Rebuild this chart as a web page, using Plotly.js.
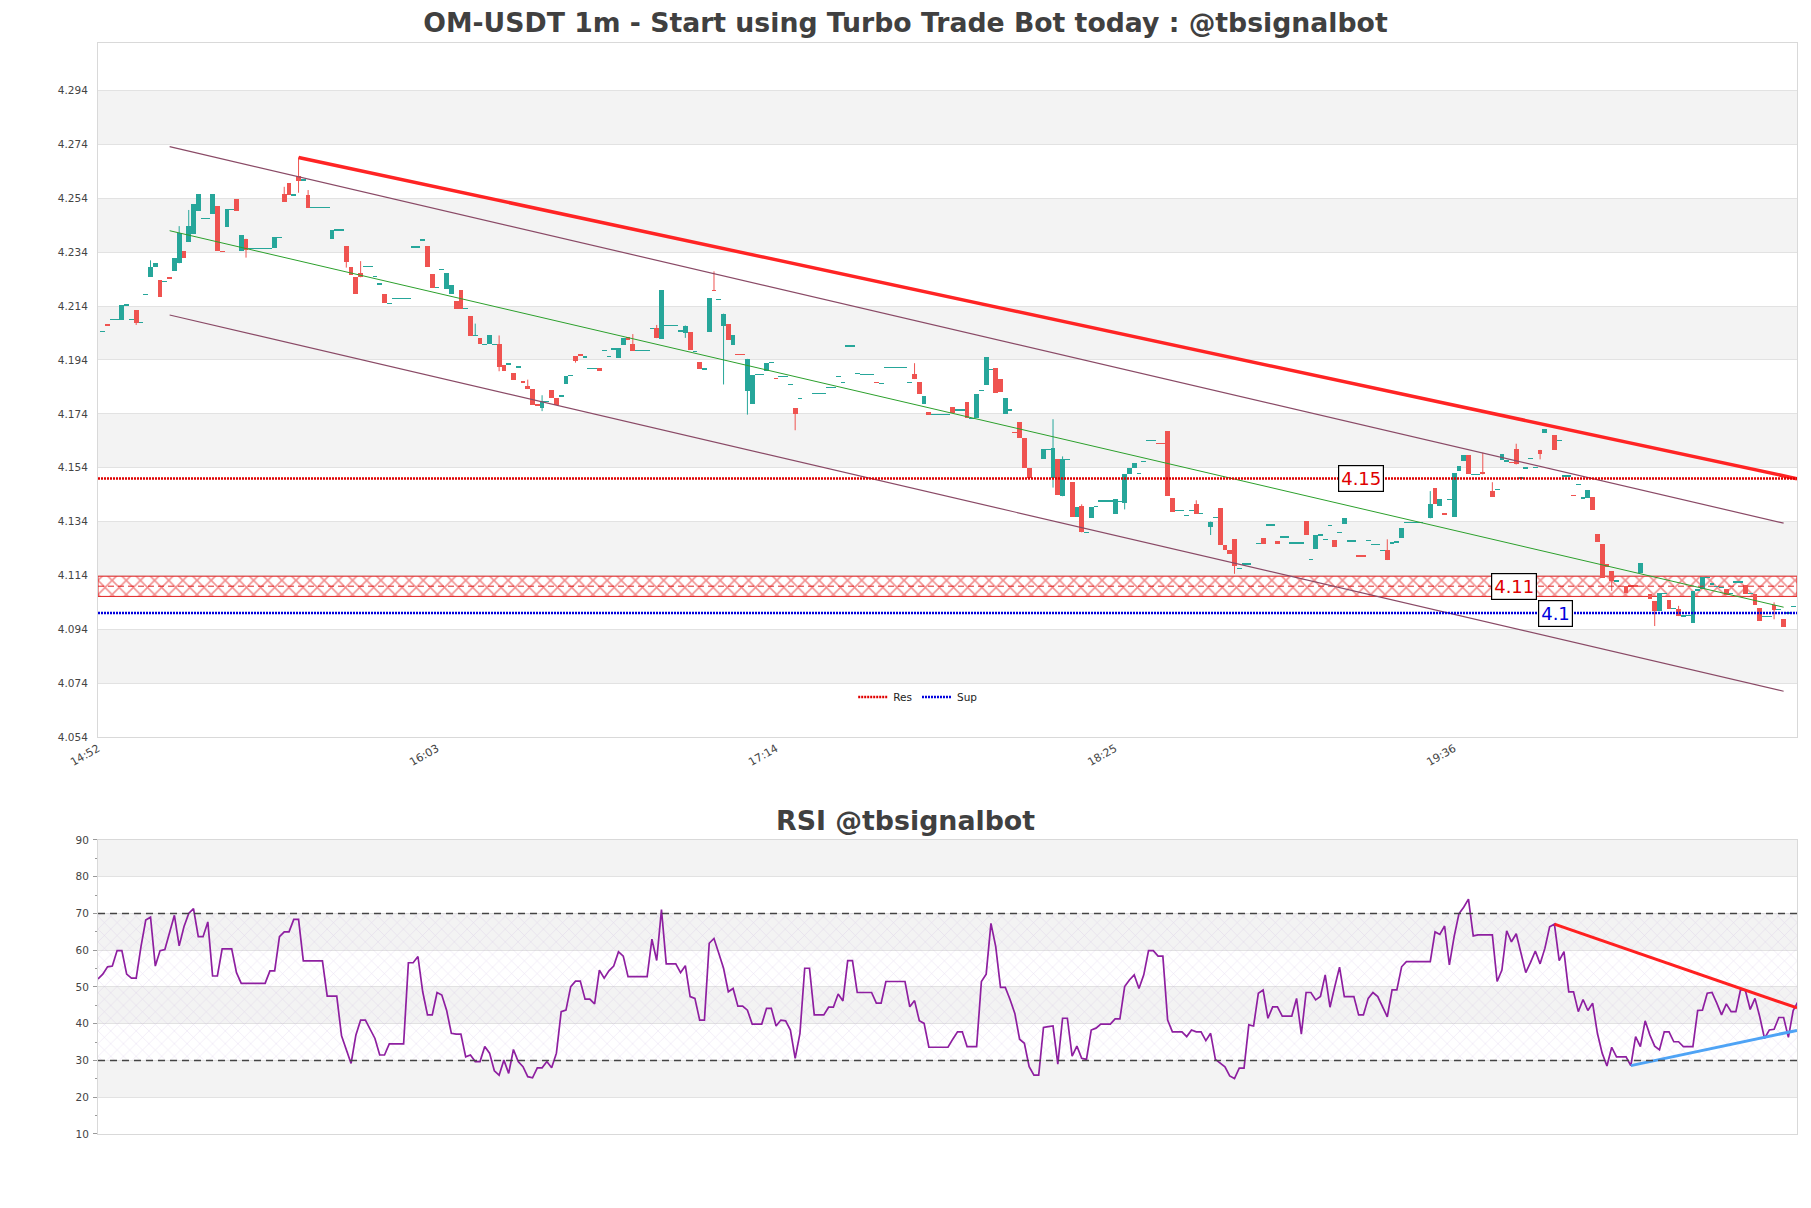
<!DOCTYPE html>
<html><head><meta charset="utf-8">
<script src="https://cdn.plot.ly/plotly-3.0.1.min.js"></script>
<style>html,body{margin:0;padding:0;background:#fff}#chart{width:1811px;height:1208px}</style>
</head><body><div id="chart"></div>
<script>
// ---------- DATA ----------
const titleText = 'OM-USDT 1m - Start using Turbo Trade Bot today : @tbsignalbot';
const rsiTitleText = 'RSI @tbsignalbot';
const timeTickMinutes = [0, 71, 142, 213, 284];
const timeTickLabels = ['14:52', '16:03', '17:14', '18:25', '19:36'];
const priceTicks = [4.054, 4.074, 4.094, 4.114, 4.134, 4.154, 4.174, 4.194, 4.214, 4.234, 4.254, 4.274, 4.294];
const rsiTicks = [10, 20, 30, 40, 50, 60, 70, 80, 90];

// candles for minutes 1..355 (null = no candle)
const candleOpen = [
4.2046,4.2071,4.2090,4.2090,4.2090,4.2144,4.2090,4.2125,4.2078,4.2184,
4.2249,4.2284,4.2237,4.2232,4.2249,4.2271,4.2299,4.2343,4.2379,4.2408,
4.2493,4.2466,4.2466,4.2482,4.2512,4.2344,4.2432,4.2499,4.2536,4.2346,
4.2390,4.2354,4.2354,4.2354,4.2354,4.2354,4.2354,4.2395,4.2556,4.2596,
4.2552,4.2623,4.2608,4.2552,4.2507,4.2507,4.2507,4.2507,4.2390,4.2422,
4.2422,4.2363,4.2285,4.2249,4.2264,4.2287,4.2287,4.2250,4.2222,4.2184,
4.2150,4.2169,4.2169,4.2169,4.2169,4.2360,4.2360,4.2385,4.2365,4.2259,
4.2210,4.2276,4.2204,4.2185,4.2158,4.2198,4.2130,4.2105,4.2031,4.2022,
4.1998,4.1998,4.1998,4.1998,4.1922,4.1925,4.1892,4.1909,4.1863,4.1842,
4.1832,4.1773,4.1762,4.1787,4.1830,4.1799,4.1801,4.1849,4.1883,4.1954,
4.1964,4.1951,4.1909,4.1909,4.1912,4.1976,4.1954,4.1981,4.1946,4.1995,
4.2026,4.2001,4.1976,4.1976,4.1976,4.2058,4.2058,4.2018,4.2068,4.2068,
4.2068,4.2047,4.2040,4.2045,4.1971,4.1933,4.1907,4.2043,4.2201,4.2164,
4.2068,4.2075,4.1997,4.1961,4.1961,4.1824,4.1777,4.1886,4.1886,4.1898,
4.1930,4.1872,4.1879,4.1879,4.1850,4.1760,4.1798,null,null,4.1815,
4.1815,4.1815,4.1837,4.1837,4.1878,4.1856,4.1992,4.1992,4.1889,4.1885,
4.1885,4.1885,4.1856,4.1853,4.1912,4.1912,4.1912,4.1912,4.1912,4.1856,
4.1889,4.1857,4.1775,4.1748,4.1737,4.1737,4.1737,4.1737,4.1765,4.1754,
4.1754,4.1785,4.1723,4.1726,4.1827,4.1847,4.1905,4.1909,4.1868,4.1738,
4.1754,4.1671,4.1711,4.1652,4.1540,null,null,4.1574,4.1608,4.1500,
4.1571,4.1434,4.1571,4.1488,4.1357,4.1398,4.1300,4.1354,4.1396,4.1416,
4.1416,4.1416,4.1367,4.1414,4.1410,4.1518,4.1540,4.1518,4.1562,4.1641,
4.1641,4.1630,4.1630,4.1676,4.1429,4.1380,4.1380,4.1363,4.1382,4.1404,
4.1369,null,4.1320,4.1355,4.1389,4.1253,4.1235,4.1274,4.1166,4.1183,
4.1183,null,4.1258,4.1278,4.1327,4.1327,4.1268,4.1283,4.1283,4.1260,
4.1260,4.1260,4.1342,4.1198,4.1237,4.1290,4.1273,4.1326,4.1271,4.1299,
4.1330,4.1268,4.1268,4.1212,4.1212,4.1270,4.1255,4.1255,4.1233,4.1233,
4.1260,4.1264,4.1280,4.1336,4.1336,4.1336,4.1336,null,4.1352,4.1463,
4.1397,4.1373,4.1422,4.1358,4.1528,4.1565,4.1586,4.1515,4.1515,4.1524,
null,4.1453,4.1460,4.1568,4.1565,4.1560,4.1608,4.1502,4.1539,4.1573,
4.1540,4.1606,4.1670,null,4.1660,4.1640,4.1509,4.1509,4.1438,4.1477,
4.1422,4.1429,4.1432,4.1295,4.1255,4.1183,4.1156,4.1119,null,4.1100,
4.1101,4.1101,4.1150,null,4.1070,4.1045,4.1008,4.1073,4.1047,4.1016,
4.1014,4.0989,4.0991,4.0964,4.1086,4.1091,4.1133,4.1108,4.1100,4.1094,
4.1091,4.1072,4.1115,4.1115,4.1103,4.1072,4.1072,4.1018,4.0987,4.0987,
4.1032,4.1013,4.0979,4.0996,4.1024];
const candleHigh = [
4.2046,4.2071,4.2090,4.2090,4.2144,4.2144,4.2090,4.2125,4.2078,4.2184,
4.2310,4.2299,4.2237,4.2232,4.2249,4.2317,4.2437,4.2343,4.2497,4.2521,
4.2556,4.2466,4.2466,4.2556,4.2512,4.2344,4.2499,4.2499,4.2536,4.2403,
4.2390,4.2354,4.2354,4.2354,4.2354,4.2354,4.2395,4.2395,4.2583,4.2596,
4.2552,4.2692,4.2608,4.2571,4.2507,4.2507,4.2507,4.2507,4.2422,4.2422,
4.2422,4.2363,4.2285,4.2249,4.2307,4.2287,4.2287,4.2250,4.2222,4.2184,
4.2150,4.2169,4.2169,4.2169,4.2169,4.2360,4.2360,4.2385,4.2365,4.2259,
4.2210,4.2276,4.2263,4.2220,4.2158,4.2198,4.2130,4.2105,4.2075,4.2022,
4.1998,4.2031,4.1998,4.2031,4.1922,4.1925,4.1892,4.1917,4.1863,4.1867,
4.1832,4.1773,4.1809,4.1787,4.1830,4.1799,4.1810,4.1880,4.1883,4.1954,
4.1964,4.1951,4.1909,4.1909,4.1912,4.1976,4.1954,4.1981,4.1986,4.2023,
4.2026,4.2036,4.1976,4.1976,4.1976,4.2058,4.2070,4.2199,4.2068,4.2068,
4.2068,4.2047,4.2068,4.2045,4.1971,4.1933,4.1907,4.2170,4.2269,4.2164,
4.2112,4.2075,4.2031,4.1961,4.1961,4.1944,4.1886,4.1886,4.1886,4.1927,
4.1930,4.1872,4.1879,4.1879,4.1850,4.1760,4.1798,null,null,4.1815,
4.1815,4.1815,4.1837,4.1837,4.1878,4.1856,4.1992,4.1992,4.1889,4.1885,
4.1885,4.1885,4.1856,4.1853,4.1912,4.1912,4.1912,4.1912,4.1912,4.1856,
4.1928,4.1857,4.1805,4.1748,4.1737,4.1737,4.1737,4.1737,4.1765,4.1754,
4.1754,4.1785,4.1723,4.1815,4.1827,4.1952,4.1905,4.1909,4.1868,4.1800,
4.1754,4.1671,4.1711,4.1652,4.1540,null,null,4.1608,4.1608,4.1720,
4.1571,4.1582,4.1571,4.1488,4.1394,4.1404,4.1300,4.1394,4.1396,4.1416,
4.1416,4.1416,4.1422,4.1414,4.1515,4.1540,4.1559,4.1518,4.1562,4.1641,
4.1641,4.1630,4.1630,4.1676,4.1429,4.1380,4.1380,4.1363,4.1382,4.1419,
4.1369,null,4.1340,4.1355,4.1389,4.1253,4.1235,4.1274,4.1166,4.1183,
4.1183,null,4.1258,4.1278,4.1327,4.1327,4.1268,4.1283,4.1283,4.1260,
4.1260,4.1260,4.1342,4.1198,4.1290,4.1290,4.1273,4.1326,4.1271,4.1299,
4.1354,4.1268,4.1268,4.1212,4.1212,4.1270,4.1255,4.1255,4.1233,4.1274,
4.1260,4.1264,4.1315,4.1336,4.1336,4.1336,4.1336,null,4.1453,4.1463,
4.1422,4.1373,4.1422,4.1521,4.1546,4.1586,4.1586,4.1515,4.1515,4.1596,
null,4.1486,4.1460,4.1590,4.1565,4.1560,4.1629,4.1502,4.1539,4.1573,
4.1540,4.1606,4.1685,null,4.1660,4.1640,4.1509,4.1509,4.1438,4.1477,
4.1432,4.1457,4.1432,4.1295,4.1255,4.1183,4.1156,4.1119,null,4.1100,
4.1101,4.1101,4.1185,null,4.1070,4.1045,4.1076,4.1073,4.1047,4.1016,
4.1027,4.0989,4.0991,4.1082,4.1086,4.1133,4.1133,4.1108,4.1100,4.1094,
4.1091,4.1072,4.1115,4.1115,4.1103,4.1072,4.1072,4.1018,4.0987,4.0987,
4.1040,4.1013,4.0979,4.1004,4.1024];
const candleLow = [
4.2046,4.2070,4.2090,4.2090,4.2090,4.2144,4.2090,4.2070,4.2078,4.2184,
4.2249,4.2284,4.2172,4.2232,4.2239,4.2271,4.2299,4.2320,4.2379,4.2408,
4.2493,4.2466,4.2466,4.2482,4.2343,4.2343,4.2432,4.2499,4.2494,4.2346,
4.2320,4.2354,4.2354,4.2354,4.2354,4.2354,4.2354,4.2395,4.2528,4.2552,
4.2552,4.2561,4.2608,4.2505,4.2507,4.2507,4.2507,4.2507,4.2390,4.2422,
4.2422,4.2283,4.2257,4.2184,4.2247,4.2287,4.2287,4.2250,4.2222,4.2150,
4.2150,4.2169,4.2169,4.2169,4.2169,4.2360,4.2360,4.2385,4.2286,4.2209,
4.2210,4.2276,4.2204,4.2185,4.2130,4.2130,4.2130,4.2028,4.2031,4.1998,
4.1998,4.1998,4.1998,4.1898,4.1898,4.1925,4.1865,4.1909,4.1855,4.1832,
4.1772,4.1772,4.1750,4.1787,4.1799,4.1772,4.1801,4.1849,4.1883,4.1930,
4.1954,4.1951,4.1909,4.1909,4.1898,4.1976,4.1954,4.1981,4.1946,4.1995,
4.2013,4.1974,4.1976,4.1976,4.1976,4.2058,4.2021,4.2018,4.2068,4.2068,
4.2068,4.2047,4.2022,4.1976,4.1971,4.1907,4.1907,4.2043,4.2196,4.2164,
4.1849,4.2016,4.1997,4.1960,4.1960,4.1737,4.1777,4.1886,4.1886,4.1898,
4.1930,4.1871,4.1879,4.1879,4.1850,4.1679,4.1798,null,null,4.1815,
4.1815,4.1815,4.1837,4.1837,4.1878,4.1856,4.1992,4.1992,4.1889,4.1885,
4.1885,4.1885,4.1855,4.1853,4.1912,4.1912,4.1912,4.1912,4.1912,4.1856,
4.1869,4.1812,4.1775,4.1736,4.1737,4.1737,4.1737,4.1737,4.1742,4.1754,
4.1754,4.1723,4.1723,4.1726,4.1827,4.1847,4.1905,4.1819,4.1822,4.1738,
4.1754,4.1670,4.1652,4.1540,4.1503,null,null,4.1574,4.1608,4.1466,
4.1439,4.1434,4.1571,4.1357,4.1357,4.1300,4.1300,4.1354,4.1396,4.1416,
4.1416,4.1416,4.1367,4.1414,4.1385,4.1518,4.1540,4.1518,4.1562,4.1641,
4.1641,4.1629,4.1629,4.1435,4.1377,4.1380,4.1380,4.1363,4.1382,4.1369,
4.1369,null,4.1290,4.1355,4.1253,4.1235,4.1221,4.1146,4.1166,4.1183,
4.1183,null,4.1258,4.1255,4.1327,4.1327,4.1258,4.1283,4.1283,4.1260,
4.1260,4.1260,4.1290,4.1198,4.1237,4.1290,4.1273,4.1326,4.1247,4.1299,
4.1330,4.1268,4.1268,4.1211,4.1211,4.1270,4.1255,4.1255,4.1233,4.1197,
4.1260,4.1264,4.1280,4.1336,4.1336,4.1336,4.1336,null,4.1352,4.1404,
4.1397,4.1366,4.1422,4.1358,4.1528,4.1565,4.1515,4.1515,4.1515,4.1515,
null,4.1432,4.1460,4.1568,4.1565,4.1559,4.1552,4.1502,4.1539,4.1573,
4.1540,4.1571,4.1670,null,4.1606,4.1640,4.1509,4.1509,4.1437,4.1477,
4.1422,4.1429,4.1383,4.1264,4.1131,4.1171,4.1082,4.1119,null,4.1076,
4.1100,4.1100,4.1150,null,4.1051,4.0952,4.1008,4.1073,4.1016,4.1016,
4.0989,4.0989,4.0991,4.0964,4.1086,4.1091,4.1133,4.1108,4.1100,4.1094,
4.1066,4.1072,4.1115,4.1115,4.1072,4.1072,4.1032,4.0969,4.0987,4.0987,
4.0977,4.1013,4.0950,4.0996,4.1024];
const candleClose = [
4.2046,4.2070,4.2090,4.2090,4.2144,4.2144,4.2090,4.2078,4.2078,4.2184,
4.2284,4.2299,4.2172,4.2232,4.2239,4.2317,4.2412,4.2320,4.2437,4.2521,
4.2556,4.2466,4.2466,4.2556,4.2343,4.2343,4.2499,4.2499,4.2494,4.2403,
4.2348,4.2354,4.2354,4.2354,4.2354,4.2354,4.2395,4.2395,4.2528,4.2552,
4.2552,4.2606,4.2608,4.2505,4.2507,4.2507,4.2507,4.2507,4.2422,4.2422,
4.2422,4.2305,4.2257,4.2184,4.2247,4.2287,4.2287,4.2250,4.2222,4.2150,
4.2150,4.2169,4.2169,4.2169,4.2169,4.2360,4.2360,4.2385,4.2286,4.2209,
4.2210,4.2276,4.2263,4.2220,4.2130,4.2130,4.2130,4.2028,4.2031,4.1998,
4.1998,4.2031,4.1998,4.1914,4.1898,4.1925,4.1865,4.1917,4.1855,4.1832,
4.1772,4.1772,4.1787,4.1787,4.1799,4.1772,4.1810,4.1880,4.1883,4.1938,
4.1954,4.1951,4.1909,4.1909,4.1898,4.1976,4.1954,4.1981,4.1986,4.2023,
4.2013,4.1974,4.1976,4.1976,4.1976,4.2058,4.2021,4.2199,4.2068,4.2068,
4.2068,4.2047,4.2068,4.1976,4.1971,4.1907,4.1907,4.2170,4.2196,4.2164,
4.2112,4.2016,4.2031,4.1960,4.1960,4.1944,4.1886,4.1886,4.1886,4.1927,
4.1930,4.1871,4.1879,4.1879,4.1850,4.1740,4.1798,null,null,4.1815,
4.1815,4.1815,4.1837,4.1837,4.1878,4.1856,4.1992,4.1992,4.1889,4.1885,
4.1885,4.1885,4.1855,4.1853,4.1912,4.1912,4.1912,4.1912,4.1912,4.1856,
4.1869,4.1812,4.1805,4.1736,4.1737,4.1737,4.1737,4.1737,4.1742,4.1754,
4.1754,4.1723,4.1723,4.1815,4.1827,4.1952,4.1905,4.1819,4.1822,4.1800,
4.1754,4.1670,4.1652,4.1540,4.1503,null,null,4.1608,4.1608,4.1614,
4.1439,4.1571,4.1571,4.1357,4.1394,4.1300,4.1300,4.1394,4.1396,4.1416,
4.1416,4.1416,4.1422,4.1414,4.1515,4.1540,4.1559,4.1518,4.1562,4.1641,
4.1641,4.1629,4.1629,4.1435,4.1377,4.1380,4.1380,4.1363,4.1382,4.1369,
4.1369,null,4.1340,4.1355,4.1253,4.1235,4.1221,4.1175,4.1166,4.1183,
4.1183,null,4.1258,4.1255,4.1327,4.1327,4.1258,4.1283,4.1283,4.1260,
4.1260,4.1260,4.1290,4.1198,4.1290,4.1290,4.1273,4.1326,4.1247,4.1299,
4.1354,4.1268,4.1268,4.1211,4.1211,4.1270,4.1255,4.1255,4.1233,4.1197,
4.1260,4.1264,4.1315,4.1336,4.1336,4.1336,4.1336,null,4.1406,4.1404,
4.1422,4.1366,4.1422,4.1521,4.1546,4.1586,4.1515,4.1515,4.1515,4.1515,
null,4.1432,4.1460,4.1590,4.1565,4.1559,4.1552,4.1502,4.1539,4.1573,
4.1540,4.1590,4.1685,null,4.1606,4.1640,4.1509,4.1509,4.1437,4.1477,
4.1432,4.1457,4.1383,4.1264,4.1131,4.1171,4.1119,4.1119,null,4.1076,
4.1100,4.1100,4.1185,null,4.1051,4.1008,4.1076,4.1073,4.1016,4.1016,
4.0989,4.0989,4.0991,4.1082,4.1086,4.1133,4.1133,4.1108,4.1100,4.1094,
4.1066,4.1072,4.1115,4.1115,4.1072,4.1072,4.1032,4.0969,4.0987,4.0987,
4.1013,4.1013,4.0950,4.1004,4.1024];

// RSI for minutes 0..356
const rsiValues = [
52.2,53.5,55.5,55.7,59.9,59.9,53.5,52.4,52.4,61.0,
68.2,69.0,55.7,59.9,60.2,65.0,69.5,61.2,66.4,70.0,
71.3,63.7,63.7,67.7,53.0,53.0,60.4,60.4,60.4,53.9,
51.0,51.0,51.0,51.0,51.0,51.0,54.4,54.4,63.7,65.0,
65.0,68.4,68.4,57.1,57.1,57.1,57.1,57.1,47.5,47.5,
47.5,36.7,32.9,29.2,36.9,41.0,41.0,38.3,36.0,31.5,
31.5,34.5,34.5,34.5,34.5,56.6,56.6,58.3,48.7,42.4,
42.4,48.5,47.8,43.7,37.4,37.2,37.2,31.0,31.5,29.7,
29.7,33.8,32.0,27.2,26.0,30.1,26.5,33.0,29.7,28.3,
25.6,25.3,28.0,28.0,29.7,28.0,32.0,43.3,43.7,50.1,
51.6,51.6,46.7,46.7,45.4,54.6,52.4,54.4,55.7,59.6,
58.4,52.8,52.8,52.8,52.8,52.8,63.0,57.2,71.1,56.3,
56.3,56.3,53.9,55.8,47.4,46.9,41.0,41.0,61.9,63.2,
59.2,55.1,48.7,49.6,44.8,44.8,43.7,39.9,39.9,39.9,
44.2,44.2,39.4,41.0,40.8,38.3,30.6,37.4,55.1,55.1,
42.4,42.4,42.4,44.5,44.5,48.1,46.2,57.2,57.2,48.5,
48.5,48.5,48.5,45.6,45.6,51.5,51.5,51.5,51.5,51.5,
44.6,46.3,40.8,40.1,33.6,33.6,33.6,33.6,33.6,35.8,
37.8,37.8,33.8,33.8,33.8,51.5,53.5,67.3,61.0,49.9,
49.9,46.6,42.8,35.8,34.7,28.3,26.0,26.0,39.0,39.2,
39.4,29.0,41.5,41.5,31.2,33.9,30.6,30.3,38.3,38.8,
39.9,39.9,39.9,41.3,41.3,50.1,51.9,53.3,49.6,53.3,
59.9,59.9,58.4,58.4,41.0,37.8,37.8,37.8,36.5,38.3,
37.8,37.8,35.4,37.4,30.3,29.2,28.3,25.8,25.1,27.9,
27.9,39.7,39.4,48.3,49.2,41.5,44.6,44.6,42.1,42.1,
42.1,46.9,37.2,48.5,48.5,46.5,47.4,53.3,44.5,50.1,
55.4,47.4,47.4,47.4,42.4,42.4,46.9,48.5,47.4,44.6,
41.9,49.2,49.2,55.5,56.9,56.9,56.9,56.9,56.9,56.9,
65.0,64.3,66.6,56.0,63.7,69.9,71.7,73.9,63.9,64.2,
64.2,64.2,64.2,51.5,54.6,65.3,62.3,64.5,59.3,53.9,
56.7,59.8,56.3,60.5,66.4,67.1,57.2,59.6,48.7,48.7,
43.3,46.6,43.6,45.6,37.4,32.0,28.5,33.6,31.0,31.0,
31.0,28.6,36.5,33.8,40.8,36.9,33.9,32.9,37.8,37.8,
35.1,35.1,33.8,33.8,33.8,43.6,43.7,48.3,48.5,45.6,
42.4,45.4,43.3,43.3,49.4,49.0,43.9,46.9,41.9,36.0,
38.3,38.5,41.7,41.7,36.3,43.6,46.0];

// levels and trend lines
const xEnd = 355.8;
const resLevel = 4.15, supLevel = 4.10;
const zoneLevel = 4.11, zoneLow = 4.1062, zoneHigh = 4.1137;
const resTrendX = [42, xEnd], resTrendY = [4.2692, 4.1499];
const channelX = [15, 353];
const channelUpper = [4.2732, 4.1334];
const channelMid = [4.2420, 4.1022];
const channelLower = [4.2107, 4.0710];
const rsiUpperLevel = 70, rsiLowerLevel = 30;
const rsiResX = [305, xEnd], rsiResY = [67.1, 44.3];
const rsiSupX = [321, xEnd], rsiSupY = [28.6, 38.2];
const labelItems = [
  {x: 264.5, y: 4.15, text: '4.15', color: '#e00000'},
  {x: 296.5, y: 4.11, text: '4.11', color: '#e00000'},
  {x: 305.2, y: 4.10, text: '4.1', color: '#0000dd'}
];

// ---------- BUILD ----------
const TEAL = '#26a69a', RED = '#ef5350';
const minBody = 0.0005;
const inc = {x: [], base: [], y: []}, dec = {x: [], base: [], y: []};
const wInc = {x: [], y: []}, wDec = {x: [], y: []};
for (let k = 0; k < candleOpen.length; k++) {
  const o = candleOpen[k];
  if (o === null) continue;
  const c = candleClose[k], h = candleHigh[k], l = candleLow[k], t = k + 1;
  const lo = Math.min(o, c), hi = Math.max(o, c);
  let base = lo, hgt = hi - lo;
  if (hgt < minBody) { base = (lo + hi) / 2 - minBody / 2; hgt = minBody; }
  const up = c >= o;
  const g = up ? inc : dec, w = up ? wInc : wDec;
  g.x.push(t); g.base.push(base); g.y.push(hgt);
  if (h > hi || l < lo) { w.x.push(t, t, null); w.y.push(l, h, null); }
}
const rsiX = rsiValues.map((_, i) => i);

const traces = [];
// hatched zone (bar with pattern)
traces.push({type: 'bar', x: [xEnd / 2], base: [zoneLow], y: [zoneHigh - zoneLow], width: [xEnd],
  marker: {color: 'rgba(255,255,255,0)', line: {color: '#e02020', width: 1},
    pattern: {shape: 'x', fgcolor: '#e42222', bgcolor: 'rgba(255,255,255,0)', size: 10, solidity: 0.3, fillmode: 'overlay'}},
  xaxis: 'x', yaxis: 'y', showlegend: false, hoverinfo: 'skip'});
traces.push({type: 'bar', x: inc.x, base: inc.base, y: inc.y, width: 1, marker: {color: TEAL, line: {width: 0}},
  xaxis: 'x', yaxis: 'y', showlegend: false, hoverinfo: 'skip'});
traces.push({type: 'bar', x: dec.x, base: dec.base, y: dec.y, width: 1, marker: {color: RED, line: {width: 0}},
  xaxis: 'x', yaxis: 'y', showlegend: false, hoverinfo: 'skip'});
traces.push({type: 'scatter', mode: 'lines', x: wInc.x, y: wInc.y, line: {color: TEAL, width: 1},
  xaxis: 'x', yaxis: 'y', showlegend: false, hoverinfo: 'skip', connectgaps: false});
traces.push({type: 'scatter', mode: 'lines', x: wDec.x, y: wDec.y, line: {color: RED, width: 1},
  xaxis: 'x', yaxis: 'y', showlegend: false, hoverinfo: 'skip', connectgaps: false});
// zone center dashed line
traces.push({type: 'scatter', mode: 'lines', x: [0, xEnd], y: [zoneLevel, zoneLevel],
  line: {color: '#e02020', width: 1, dash: '6px,4px'}, xaxis: 'x', yaxis: 'y', showlegend: false, hoverinfo: 'skip'});
// channel
traces.push({type: 'scatter', mode: 'lines', x: channelX, y: channelUpper, line: {color: '#8a4a66', width: 1.2},
  xaxis: 'x', yaxis: 'y', showlegend: false, hoverinfo: 'skip'});
traces.push({type: 'scatter', mode: 'lines', x: channelX, y: channelLower, line: {color: '#8a4a66', width: 1.2},
  xaxis: 'x', yaxis: 'y', showlegend: false, hoverinfo: 'skip'});
traces.push({type: 'scatter', mode: 'lines', x: channelX, y: channelMid, line: {color: '#2ca02c', width: 1},
  xaxis: 'x', yaxis: 'y', showlegend: false, hoverinfo: 'skip'});
// resistance trend line
traces.push({type: 'scatter', mode: 'lines', x: resTrendX, y: resTrendY, line: {color: '#ff2424', width: 3.5},
  xaxis: 'x', yaxis: 'y', showlegend: false, hoverinfo: 'skip'});
// Res / Sup levels
traces.push({type: 'scatter', mode: 'lines', name: 'Res', x: [0, xEnd], y: [resLevel, resLevel],
  line: {color: '#e00000', width: 2.5, dash: '2px,1px'}, xaxis: 'x', yaxis: 'y', hoverinfo: 'skip'});
traces.push({type: 'scatter', mode: 'lines', name: 'Sup', x: [0, xEnd], y: [supLevel, supLevel],
  line: {color: '#0000dd', width: 2.5, dash: '2px,1px'}, xaxis: 'x', yaxis: 'y', hoverinfo: 'skip'});
// RSI hatch
traces.push({type: 'bar', x: [xEnd / 2], base: [rsiLowerLevel], y: [rsiUpperLevel - rsiLowerLevel], width: [xEnd],
  marker: {color: 'rgba(255,255,255,0)', line: {width: 0},
    pattern: {shape: 'x', fgcolor: 'rgba(170,135,205,0.6)', bgcolor: 'rgba(255,255,255,0)', size: 9, solidity: 0.1, fillmode: 'overlay'}},
  xaxis: 'x2', yaxis: 'y2', showlegend: false, hoverinfo: 'skip'});
traces.push({type: 'scatter', mode: 'lines', x: rsiX, y: rsiValues, line: {color: '#8e1fa0', width: 1.7},
  xaxis: 'x2', yaxis: 'y2', showlegend: false, hoverinfo: 'skip'});
traces.push({type: 'scatter', mode: 'lines', x: rsiResX, y: rsiResY, line: {color: '#ff2020', width: 3},
  xaxis: 'x2', yaxis: 'y2', showlegend: false, hoverinfo: 'skip'});
traces.push({type: 'scatter', mode: 'lines', x: rsiSupX, y: rsiSupY, line: {color: '#4ea3f5', width: 3},
  xaxis: 'x2', yaxis: 'y2', showlegend: false, hoverinfo: 'skip'});

// background bands
const shapes = [];
const BAND = '#f3f3f3';
for (let k = 1; k + 1 < priceTicks.length; k += 2)
  shapes.push({type: 'rect', xref: 'paper', yref: 'y', x0: 0, x1: 1, y0: priceTicks[k], y1: priceTicks[k + 1],
    fillcolor: BAND, line: {width: 0}, layer: 'below'});
for (let k = 1; k + 1 < rsiTicks.length; k += 2)
  shapes.push({type: 'rect', xref: 'paper', yref: 'y2', x0: 0, x1: 1, y0: rsiTicks[k], y1: rsiTicks[k + 1],
    fillcolor: BAND, line: {width: 0}, layer: 'below'});
[rsiUpperLevel, rsiLowerLevel].forEach(v => shapes.push({type: 'line', xref: 'paper', yref: 'y2', x0: 0, x1: 1, y0: v, y1: v,
  line: {color: '#444', width: 1.3, dash: '7px,5px'}}));

const annotations = labelItems.map(a => ({x: a.x, y: a.y, xref: 'x', yref: 'y', text: a.text, showarrow: false,
  font: {family: 'DejaVu Sans', size: 18, color: a.color}, bgcolor: '#ffffff', bordercolor: '#000000',
  borderwidth: 1.2, borderpad: 2}));
annotations.push({text: '<b>' + rsiTitleText + '</b>', xref: 'paper', yref: 'paper', x: 0.4753, y: 0.2878,
  xanchor: 'center', yanchor: 'middle', showarrow: false, font: {family: 'DejaVu Sans', size: 26.8, color: '#404040'}});

const tickFont = {family: 'DejaVu Sans', size: 10.5, color: '#444'};
const layout = {
  width: 1811, height: 1208,
  margin: {l: 98, r: 14, t: 43, b: 74},
  paper_bgcolor: '#ffffff', plot_bgcolor: '#ffffff',
  font: {family: 'DejaVu Sans', color: '#444'},
  title: {text: '<b>' + titleText + '</b>', x: 0.5, xref: 'container', xanchor: 'center',
    y: 1 - 23 / 1208, yref: 'container', yanchor: 'middle',
    font: {family: 'DejaVu Sans', size: 26.7, color: '#404040'}},
  barmode: 'overlay', bargap: 0,
  showlegend: true,
  legend: {orientation: 'h', x: 0.4445, xanchor: 'left', y: 0.4005, yanchor: 'middle',
    bgcolor: 'rgba(0,0,0,0)', font: {family: 'DejaVu Sans', size: 10.5, color: '#222'}, itemwidth: 30},
  xaxis: {domain: [0, 1], anchor: 'y', range: [0, xEnd], tickvals: timeTickMinutes, ticktext: timeTickLabels,
    tickangle: -30, tickfont: {family: 'DejaVu Sans', size: 11, color: '#444'}, showgrid: false, zeroline: false, showline: true, mirror: true,
    linecolor: '#d9d9d9', linewidth: 1, ticks: ''},
  yaxis: {domain: [0.36389, 1], anchor: 'x', range: [4.054, 4.3117], tickvals: priceTicks,
    ticktext: priceTicks.map(v => v.toFixed(3)), tickfont: tickFont, showgrid: true, gridcolor: '#e2e2e2',
    zeroline: false, showline: true, mirror: true, linecolor: '#d9d9d9', linewidth: 1,
    ticks: 'outside', ticklen: 4, tickcolor: 'rgba(0,0,0,0)', ticklabelstandoff: 3},
  xaxis2: {domain: [0, 1], anchor: 'y2', range: [0, xEnd], showticklabels: false, showgrid: false, zeroline: false,
    showline: true, mirror: true, linecolor: '#d9d9d9', linewidth: 1, ticks: ''},
  yaxis2: {domain: [0, 0.26948], anchor: 'x2', range: [10, 90], tickvals: rsiTicks, tickfont: tickFont,
    showgrid: true, gridcolor: '#e2e2e2', zeroline: false, showline: true, mirror: true, linecolor: '#d9d9d9',
    ticks: 'outside', ticklen: 4, tickcolor: '#999', ticklabelstandoff: 2,
    minor: {dtick: 5, tick0: 5, ticks: 'outside', ticklen: 2, tickcolor: '#999', showgrid: false}},
  shapes: shapes,
  annotations: annotations,
  hovermode: false
};
Plotly.newPlot('chart', traces, layout, {staticPlot: true, displayModeBar: false});
</script>
</body></html>
